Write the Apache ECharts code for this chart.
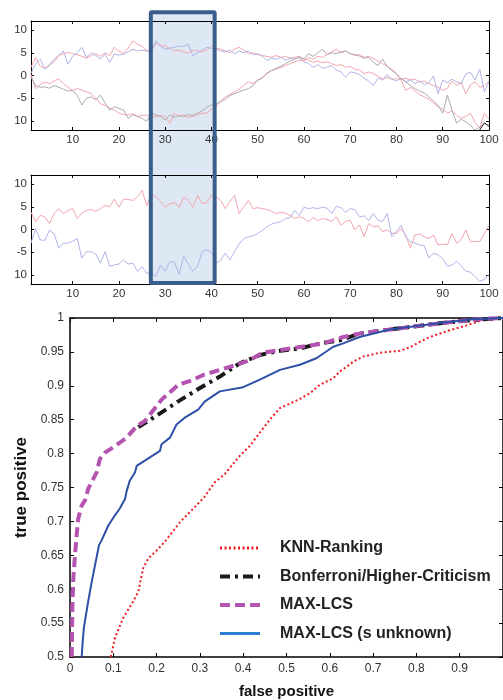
<!DOCTYPE html>
<html>
<head>
<meta charset="utf-8">
<script src="https://cdn.jsdelivr.net/npm/echarts@6/dist/echarts.min.js"></script>
<style>
  html, body { margin: 0; padding: 0; background: #fff; }
  #chart { width: 503px; height: 700px; }
</style>
</head>
<body>
<div id="chart"></div>
<script>
// ---- upper panel: four noisy traces over t = 1..100 ----
const traceUpperPink = [1.8,4.0,2.0,1.6,2.4,3.0,4.4,4.8,5.1,4.8,4.6,4.2,3.8,4.4,4.8,4.2,5.0,4.4,6.2,5.4,
  4.8,6.0,7.6,6.9,6.5,5.4,5.2,7.2,6.6,6.5,6.0,5.4,5.6,5.2,5.0,5.6,5.4,5.2,5.6,6.5,
  6.0,5.8,5.4,5.0,5.8,6.2,5.6,4.8,5.0,4.6,4.4,4.2,4.0,4.4,4.0,4.2,3.8,4.0,4.2,3.6,
  3.4,2.9,3.2,2.8,3.0,2.6,2.2,2.4,1.8,2.0,1.4,1.2,0.4,0.8,0.4,-0.2,-0.7,-0.4,-0.8,-0.7,
  -0.9,-0.6,-1.0,-0.8,-1.4,-1.2,-1.8,-2.2,-2.6,-3.3,-2.8,-1.2,-2.2,-1.6,-4.0,-2.0,-1.4,-2.6,-2.2,-1.2];
const traceUpperBlue = [0.5,2.5,3.6,1.4,2.2,3.6,4.5,5.4,2.5,4.2,5.0,6.2,4.0,5.0,4.4,3.6,4.7,2.9,4.7,4.5,
  4.7,5.2,5.8,5.4,5.6,5.4,5.4,7.6,6.4,5.8,6.0,6.2,6.5,6.4,6.9,4.3,5.0,5.6,6.2,6.0,
  5.8,5.4,5.2,5.6,4.8,5.4,5.0,5.4,4.6,4.8,4.2,3.3,3.8,3.6,4.0,3.4,3.8,3.6,4.0,3.0,
  2.6,1.8,2.4,1.6,1.8,2.2,1.2,0.8,-0.4,0.8,0.6,0.2,-0.6,-1.2,-2.2,-0.6,-1.0,0.2,-0.8,-1.2,
  -0.6,-1.4,-1.0,-1.8,-1.2,-2.0,-1.6,-0.1,-4.0,-1.0,-1.6,-0.8,-1.4,-1.8,0.4,0.7,-1.0,1.4,-3.6,-1.4];
const traceLowerPink = [0.2,-2.9,-2.0,-1.4,-1.8,-1.2,-0.7,-1.8,-2.6,-3.3,-2.9,-3.2,-3.6,-4.0,-5.0,-6.2,-6.6,-7.2,-7.6,-8.3,
  -8.6,-8.7,-8.4,-9.0,-8.8,-8.7,-9.2,-9.0,-8.8,-9.0,-10.5,-8.3,-8.9,-8.7,-9.2,-9.0,-8.6,-8.3,-8.3,-7.4,
  -6.9,-5.6,-4.7,-4.2,-3.6,-3.0,-2.2,-1.4,-1.8,-1.0,-0.4,0.6,1.1,1.4,1.8,2.2,2.6,3.0,3.4,3.2,
  4.0,3.6,4.2,4.0,4.6,5.2,5.8,5.0,5.4,4.8,4.4,4.6,4.0,4.2,3.8,3.2,2.6,2.0,1.4,0.4,
  -1.0,-3.3,-2.6,-3.4,-4.2,-4.7,-5.2,-6.0,-6.9,-7.4,-8.3,-7.8,-8.8,-9.4,-9.0,-8.3,-10.4,-11.6,-8.3,-9.6];
const traceLowerGray = [-0.4,-2.2,-2.6,-2.5,-2.8,-2.2,-2.6,-3.0,-3.4,-3.3,-4.4,-6.5,-5.0,-4.7,-5.4,-4.3,-6.0,-7.6,-6.9,-7.2,
  -7.6,-9.4,-8.7,-9.0,-9.4,-10.1,-8.3,-8.7,-9.0,-9.8,-8.7,-9.2,-8.9,-9.0,-8.6,-8.8,-8.3,-7.8,-7.0,-6.5,
  -6.2,-5.8,-5.2,-4.4,-4.0,-3.6,-3.2,-2.9,-2.2,-1.1,-0.6,0.4,1.1,1.6,2.0,2.6,3.2,3.6,4.0,3.6,
  4.8,4.2,5.0,5.8,4.6,5.0,4.8,5.2,5.4,4.8,4.6,4.3,3.8,4.0,2.9,2.2,3.6,2.0,1.1,0.4,
  -0.7,-1.4,-2.2,-2.9,-3.4,-3.8,-4.7,-5.6,-6.6,-8.3,-4.3,-7.6,-10.5,-9.6,-10.2,-11.0,-12.0,-11.4,-10.6,-11.0];
// short dark segment at the very end of the upper panel (t = 98..100)
const traceTailDark = [-12.0,-10.4,-11.2];

// ---- middle panel: two traces over t = 1..100 ----
const traceMidPink = [3.8,1.7,3.1,2.8,1.3,3.5,4.6,3.5,4.2,4.6,2.4,3.6,4.2,4.4,4.0,4.6,5.3,5.0,6.7,4.9,
  6.7,6.6,6.4,7.2,8.6,5.3,7.8,7.2,6.2,4.9,5.6,6.0,4.9,7.1,6.4,4.9,7.5,5.7,5.9,7.5,
  7.2,6.4,4.6,6.2,7.5,3.5,5.0,6.4,4.6,4.8,4.6,4.4,4.0,3.5,3.8,3.6,3.1,2.4,2.8,2.4,
  1.7,2.6,2.0,2.4,2.2,1.8,2.8,0.9,1.8,2.0,-0.1,1.0,-1.6,1.3,0.6,0.8,-0.5,-0.1,-0.8,-0.9,
  0.2,-1.2,-4.1,-1.2,-1.0,-1.6,-2.0,-1.2,-3.4,-3.2,-3.4,-0.9,-3.0,-2.2,-0.1,-2.7,-2.6,-2.7,-0.9,0.9];
const traceMidBlue = [-3.0,0.2,-2.3,-2.4,-0.1,-1.0,-4.1,-3.0,-3.0,-2.6,-2.0,-6.3,-4.9,-4.9,-5.4,-7.4,-4.9,-8.1,-7.8,-7.6,
  -6.7,-7.6,-7.4,-9.2,-8.2,-9.6,-9.8,-10.3,-7.8,-9.2,-7.0,-7.2,-9.9,-5.9,-7.6,-9.2,-8.1,-4.9,-4.5,-5.0,
  -7.4,-6.8,-5.2,-6.7,-4.8,-3.2,-2.0,-1.6,-1.4,-0.9,-0.2,0.6,1.2,1.5,1.7,2.4,2.6,4.2,3.1,4.9,
  4.6,4.8,4.6,4.9,4.7,3.5,5.1,4.8,3.8,4.6,4.4,2.8,3.0,2.0,3.5,2.0,1.8,3.5,-1.6,-0.4,
  0.9,-1.6,-2.7,-3.0,-3.4,-3.6,-6.3,-5.2,-5.6,-6.4,-8.1,-7.8,-7.0,-8.0,-9.2,-9.4,-10.4,-11.4,-11.0,-9.9];

const timeTicks = [10,20,30,40,50,60,70,80,90,100];
const ampTicks = [-10,-5,0,5,10];
// highlighted time window and its vertical extent (upper-panel top, middle-panel bottom)
const highlightWindow = [26.9, 40.7];
const highlightTop = 13.9;
const highlightBottom = -11.8;

// ---- ROC curves: [false positive, true positive] ----
const knnRanking = [[0.094,0.5],[0.104,0.5285],[0.123,0.558],[0.146,0.582],[0.158,0.597],[0.169,0.631],[0.181,0.6455],
  [0.2,0.657],[0.219,0.67],[0.254,0.699],[0.2846,0.7187],[0.31,0.7358],[0.3346,0.7577],[0.3577,0.77],[0.392,0.7967],
  [0.415,0.811],[0.4385,0.831],[0.4616,0.85],[0.4846,0.867],[0.531,0.8806],[0.554,0.889],[0.577,0.9015],[0.6077,0.911],
  [0.623,0.921],[0.6385,0.928],[0.654,0.9356],[0.677,0.943],[0.715,0.9488],[0.7616,0.9517],[0.785,0.9567],[0.808,0.965],
  [0.831,0.972],[0.877,0.982],[0.9155,0.989],[0.9616,0.999],[1,1]];
const bonferroniHC = [[0.158,0.839],[0.2,0.856],[0.25,0.877],[0.3,0.8967],[0.346,0.9136],[0.392,0.933],[0.4385,0.9455],
  [0.485,0.9517],[0.531,0.955],[0.577,0.9625],[0.623,0.967],[0.669,0.977],[0.738,0.983],[0.85,0.992],[0.93,0.997],[1,1]];
const maxLcs = [[0.004,0.5],[0.0054,0.572],[0.0077,0.616],[0.0115,0.65],[0.0154,0.68],[0.019,0.704],[0.027,0.7235],
  [0.0346,0.731],[0.042,0.748],[0.0616,0.7724],[0.069,0.792],[0.081,0.8016],[0.104,0.811],[0.131,0.8236],[0.154,0.8406],
  [0.173,0.848],[0.2115,0.8796],[0.25,0.9015],[0.281,0.908],[0.3077,0.916],[0.346,0.9235],[0.38,0.93],[0.415,0.938],
  [0.446,0.949],[0.508,0.955],[0.585,0.9625],[0.631,0.972],[0.669,0.977],[0.738,0.983],[0.8,0.988],[0.854,0.992],
  [0.931,0.9977],[1,1]];
const maxLcsUnknown = [[0.027,0.5],[0.029,0.52],[0.032,0.543],[0.042,0.582],[0.05,0.61],[0.058,0.636],[0.067,0.665],
  [0.073,0.672],[0.0885,0.694],[0.1038,0.709],[0.115,0.719],[0.127,0.733],[0.131,0.745],[0.138,0.76],[0.15,0.772],
  [0.154,0.782],[0.2077,0.804],[0.2115,0.8138],[0.231,0.8236],[0.246,0.843],[0.265,0.853],[0.296,0.865],[0.3116,0.877],
  [0.346,0.8918],[0.4,0.898],[0.4385,0.909],[0.485,0.9235],[0.531,0.931],[0.569,0.9406],[0.608,0.9576],[0.631,0.9625],
  [0.669,0.972],[0.738,0.983],[0.854,0.9927],[0.93,0.998],[1,1]];

const seriesNames = ['KNN-Ranking','Bonferroni/Higher-Criticism','MAX-LCS','MAX-LCS (s unknown)'];

const FONT = 'Liberation Sans, Arial, Helvetica, sans-serif';
const withTime = arr => arr.map((v, i) => [i + 1, v]);

const chart = echarts.init(document.getElementById('chart'), null, { renderer: 'canvas' });

function timeAxis(grid, top) {
  return {
    type: 'value', gridIndex: grid, position: top ? 'top' : 'bottom', min: 1, max: 100,
    axisLine: { show: true, onZero: false, lineStyle: { color: '#000', width: 1 } },
    axisTick: { show: true, inside: true, length: 3, customValues: timeTicks, lineStyle: { color: '#000' } },
    axisLabel: top ? { show: false } : {
      show: true, customValues: timeTicks, margin: 4, fontSize: 11.5, color: '#333', fontFamily: FONT
    },
    splitLine: { show: false }
  };
}
function ampAxis(grid, right) {
  return {
    type: 'value', gridIndex: grid, position: right ? 'right' : 'left', min: -12, max: 12,
    axisLine: { show: true, onZero: false, lineStyle: { color: '#000', width: 1 } },
    axisTick: { show: true, inside: true, length: 3, customValues: ampTicks, lineStyle: { color: '#000' } },
    axisLabel: right ? { show: false } : {
      show: true, customValues: ampTicks, margin: 4, fontSize: 11.5, color: '#333', fontFamily: FONT,
      // the minus sign of the lowest tick falls outside the figure's left edge
      formatter: v => (v === -10 ? '10' : String(v))
    },
    splitLine: { show: false }
  };
}
function rocX(top) {
  return {
    type: 'value', gridIndex: 2, position: top ? 'top' : 'bottom', min: 0, max: 1, interval: 0.1,
    name: top ? '' : 'false positive', nameLocation: 'middle', nameGap: 27,
    nameTextStyle: { fontSize: 15, fontWeight: 'bold', color: '#111', fontFamily: FONT },
    axisLine: { show: true, onZero: false, lineStyle: { color: '#000', width: 1.5 } },
    axisTick: { show: true, inside: true, length: 4, lineStyle: { color: '#000' } },
    axisLabel: top ? { show: false } : {
      show: true, margin: 6, fontSize: 12, color: '#333', fontFamily: FONT, showMaxLabel: false,
      formatter: v => (v >= 1 ? '' : String(+v.toFixed(2)))
    },
    splitLine: { show: false }
  };
}
function rocY(right) {
  return {
    type: 'value', gridIndex: 2, position: right ? 'right' : 'left', min: 0.5, max: 1, interval: 0.05,
    name: right ? '' : 'true positive', nameLocation: 'middle', nameGap: 30, nameRotate: 90,
    nameTextStyle: { fontSize: 17, fontWeight: 'bold', color: '#111', fontFamily: FONT },
    axisLine: { show: true, onZero: false, lineStyle: { color: '#000', width: 1.5 } },
    axisTick: { show: true, inside: true, length: 4, lineStyle: { color: '#000' } },
    axisLabel: right ? { show: false } : {
      show: true, margin: 6, fontSize: 12, color: '#333', fontFamily: FONT,
      formatter: v => String(+v.toFixed(2))
    },
    splitLine: { show: false }
  };
}
function trace(data, color, xi, yi) {
  return {
    type: 'line', xAxisIndex: xi, yAxisIndex: yi, data: data, symbol: 'none', silent: true,
    lineStyle: { color: color, width: 1 }, animation: false, z: 3
  };
}

const option = {
  animation: false,
  backgroundColor: '#fff',
  grid: [
    { left: 31, top: 21, width: 458, height: 109 },
    { left: 31, top: 175, width: 458, height: 109 },
    { left: 70, top: 318, width: 433, height: 342 }
  ],
  xAxis: [timeAxis(0, false), timeAxis(0, true), timeAxis(1, false), timeAxis(1, true), rocX(false), rocX(true)],
  yAxis: [ampAxis(0, false), ampAxis(0, true), ampAxis(1, false), ampAxis(1, true), rocY(false), rocY(true)],
  legend: {
    orient: 'vertical', left: 218, top: 540, padding: 0, itemWidth: 40, itemHeight: 18, itemGap: 12.5,
    itemStyle: { opacity: 0 },
    textStyle: { fontSize: 16, fontWeight: 'bold', color: '#222', fontFamily: FONT, padding: [0, 0, 0, 15] },
    data: [
      { name: seriesNames[0], lineStyle: { width: 3 } },
      { name: seriesNames[1], lineStyle: { width: 4 } },
      { name: seriesNames[2], lineStyle: { width: 4 } },
      { name: seriesNames[3], lineStyle: { width: 3, color: '#2b7fd2' } }
    ]
  },
  series: [
    trace(withTime(traceUpperPink), '#f3a5ad', 0, 0),
    trace(withTime(traceUpperBlue), '#b0b4e8', 0, 0),
    trace(withTime(traceLowerPink), '#f3a5ad', 0, 0),
    trace(withTime(traceLowerGray), '#ababab', 0, 0),
    trace(traceTailDark.map((v, i) => [98 + i, v]), '#222', 0, 0),
    trace(withTime(traceMidPink), '#f3a5ad', 2, 2),
    trace(withTime(traceMidBlue), '#b0b4e8', 2, 2),
    {
      name: seriesNames[0], type: 'line', xAxisIndex: 4, yAxisIndex: 4, data: knnRanking, symbol: 'none',
      lineStyle: { color: '#ee1d24', width: 2, type: [2, 2.5] }, itemStyle: { color: '#ee1d24' }, z: 4
    },
    {
      name: seriesNames[1], type: 'line', xAxisIndex: 4, yAxisIndex: 4, data: bonferroniHC, symbol: 'none',
      lineStyle: { color: '#1a1a1a', width: 4, type: [10, 5, 3, 5] }, itemStyle: { color: '#1a1a1a' }, z: 5
    },
    {
      name: seriesNames[2], type: 'line', xAxisIndex: 4, yAxisIndex: 4, data: maxLcs, symbol: 'none',
      lineStyle: { color: '#b553b0', width: 4, type: [10, 5] }, itemStyle: { color: '#b553b0' }, z: 6
    },
    {
      name: seriesNames[3], type: 'line', xAxisIndex: 4, yAxisIndex: 4, data: maxLcsUnknown, symbol: 'none',
      lineStyle: { color: '#2d4fa6', width: 2 }, itemStyle: { color: '#2d4fa6' }, z: 7
    }
  ]
};
chart.setOption(option);

// Highlight box spanning both time panels, placed through the axes' own scales
const bx0 = chart.convertToPixel({ xAxisIndex: 0 }, highlightWindow[0]);
const bx1 = chart.convertToPixel({ xAxisIndex: 0 }, highlightWindow[1]);
const by0 = chart.convertToPixel({ yAxisIndex: 0 }, highlightTop);
const by1 = chart.convertToPixel({ yAxisIndex: 2 }, highlightBottom);
chart.setOption({
  graphic: [
    { type: 'rect', silent: true, z: 0, shape: { x: bx0, y: by0, width: bx1 - bx0, height: by1 - by0 },
      style: { fill: 'rgba(190,210,234,0.5)' } },
    { type: 'rect', silent: true, z: 100, shape: { x: bx0, y: by0, width: bx1 - bx0, height: by1 - by0, r: 1 },
      style: { fill: null, stroke: '#3a5e8c', lineWidth: 4 } }
  ]
});
</script>
</body>
</html>
